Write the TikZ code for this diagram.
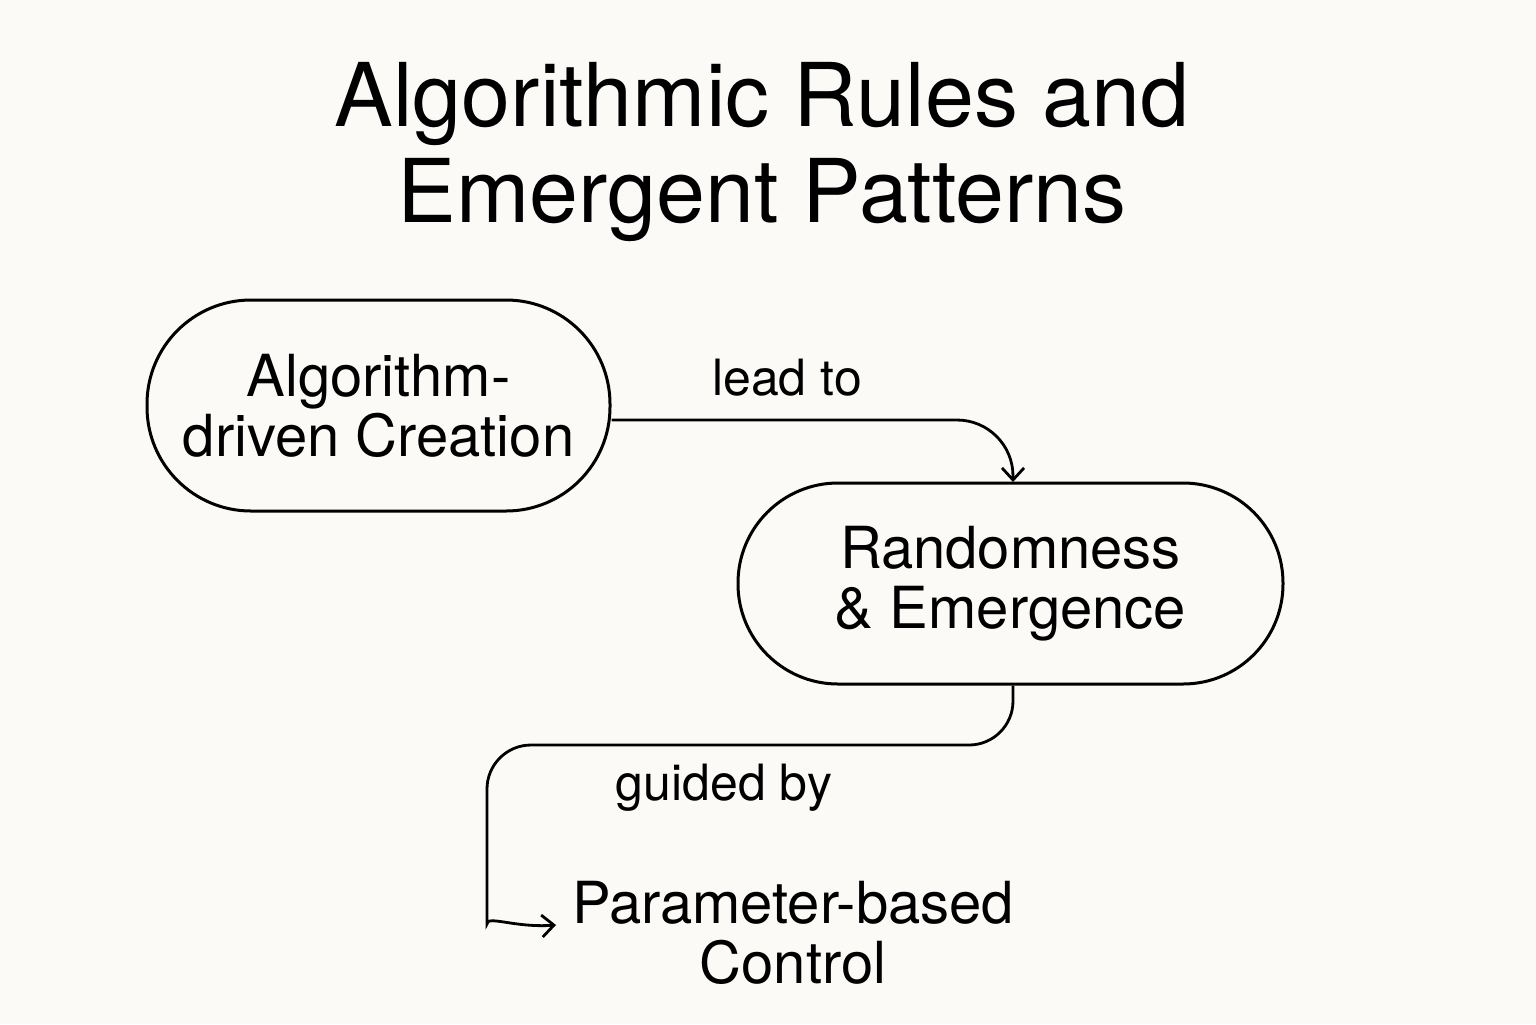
\documentclass[tikz,border=0pt]{standalone}
\usepackage{fontspec}
\setmainfont{TeX Gyre Heros}
\usetikzlibrary{arrows.meta}
\definecolor{bg}{RGB}{251,250,246}
\begin{document}
\begin{tikzpicture}[x=0.5pt,y=-0.5pt,
  box/.style={draw,line width=1.5pt,align=center,font=\fontsize{29}{30}\selectfont},
  lbl/.style={font=\fontsize{25}{28}\selectfont},
  conn/.style={line width=1.4pt,-{Straight Barb[length=6pt,width=11pt]}}]
\fill[bg] (0,0) rectangle (1536,1024);
\useasboundingbox (0,0) rectangle (1536,1024);
\node[align=center,font=\fontsize{44}{48}\selectfont] (title) at (762,152) {Algorithmic Rules and\\Emergent Patterns};
\node[box,minimum width=231.5pt,minimum height=105.5pt,rounded corners=52pt] (a) at (378.5,405.5) {Algorithm-\\driven Creation};
\node[box,minimum width=272.5pt,minimum height=100.5pt,rounded corners=50pt] (b) at (1010.5,583.5) {Randomness\\\& Emergence};
\node[align=center,font=\fontsize{29}{30}\selectfont] (c) at (793,933) {Parameter-based\\Control};
\node[lbl] (l1) at (787,378) {lead to};
\node[lbl] (l2) at (724,788) {guided by};
\coordinate (p1) at (610,420);
\coordinate (p2) at (1013,482);
\draw[conn,rounded corners=28pt] (a.east |- p1) -- (1013,420) -- (p2);
\coordinate (q1) at (1013,684);
\coordinate (q2) at (556,925);
\draw[conn,rounded corners=22pt] (b.south -| q1) -- (1013,745) -- (487,745) -- (487,880) .. controls (487,915) and (515,928) .. (q2);
\end{tikzpicture}
\end{document}
